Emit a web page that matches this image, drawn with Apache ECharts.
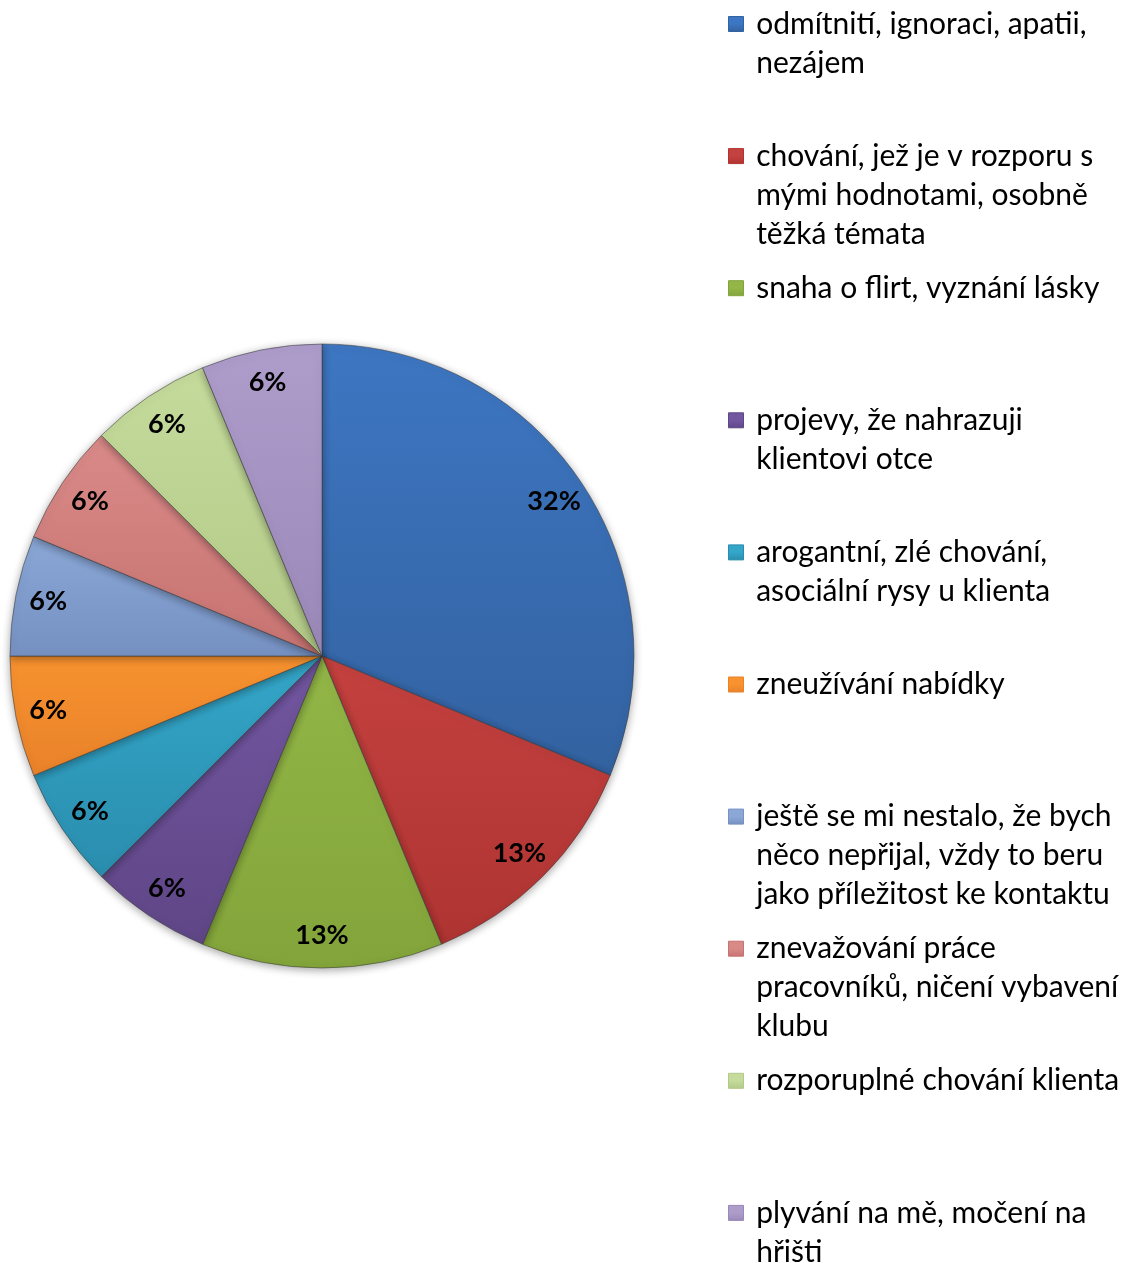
<!DOCTYPE html>
<html>
<head>
<meta charset="utf-8">
<script src="https://cdn.jsdelivr.net/npm/echarts@6/dist/echarts.min.js"></script>
<style>
html,body{margin:0;padding:0;background:#fff;}
#chart{width:1127px;height:1263px;}
</style>
</head>
<body>
<div id="chart"></div>
<script>
const categories = [
  'odmítnití, ignoraci, apatii, nezájem',
  'chování, jež je v rozporu s mými hodnotami, osobně těžká témata',
  'snaha o flirt, vyznání lásky',
  'projevy, že nahrazuji klientovi otce',
  'arogantní, zlé chování, asociální rysy u klienta',
  'zneužívání nabídky',
  'ještě se mi nestalo, že bych něco nepřijal, vždy to beru jako příležitost ke kontaktu',
  'znevažování práce pracovníků, ničení vybavení klubu',
  'rozporuplné chování klienta',
  'plyvání na mě, močení na hřišti'
];
const legendLines = [
  'odmítnití, ignoraci, apatii,\nnezájem',
  'chování, jež je v rozporu s\nmými hodnotami, osobně\ntěžká témata',
  'snaha o flirt, vyznání lásky',
  'projevy, že nahrazuji\nklientovi otce',
  'arogantní, zlé chování,\nasociální rysy u klienta',
  'zneužívání nabídky',
  'ještě se mi nestalo, že bych\nněco nepřijal, vždy to beru\njako příležitost ke kontaktu',
  'znevažování práce\npracovníků, ničení vybavení\nklubu',
  'rozporuplné chování klienta',
  'plyvání na mě, močení na\nhřišti'
];
const values = [5, 2, 2, 1, 1, 1, 1, 1, 1, 1];
const colorsTop = ['#3D76C2','#C4413F','#93B647','#7256A0','#34A6C8','#F7922F','#8AA7D6','#D98A88','#C5DB9C','#AE9DCB'];
const colorsBot = ['#3362A0','#AE3432','#82A43A','#5F4686','#2A8DAE','#E9822A','#7591C2','#C77371','#B2C987','#9A88B8'];

const cx = 322, cy = 656, R = 312;
const lineH = 39;

function grad(i){
  return new echarts.graphic.LinearGradient(0,0,0,1,[
    {offset:0,color:colorsTop[i]},{offset:1,color:colorsBot[i]}
  ]);
}
function iconGrad(i){
  return new echarts.graphic.LinearGradient(0,0,0,1,[
    {offset:0,color:colorsTop[i]},{offset:0.5,color:colorsTop[i]},{offset:1,color:colorsBot[i]}
  ]);
}

const pieData = categories.map((c,i)=>({name:c,value:values[i],itemStyle:{color:grad(i)}}));
const labelData = categories.map((c,i)=>({name:c,value:values[i]}));

const legends = categories.map((c,i)=>{
  const n = legendLines[i].split('\n').length;
  const H = (2*n-1)*lineH;
  const yc = 24 + i*132.1;
  return {
    orient:'vertical',
    left:728,
    top: yc - H/2,
    padding:0,
    itemWidth:15,
    itemHeight:15,
    itemGap:0,
    icon:'rect',
    selectedMode:false,
    data:[{name:c, itemStyle:{color:iconGrad(i), borderColor:colorsBot[i], borderWidth:1}}],
    formatter: name => {
      const lines = legendLines[categories.indexOf(name)].split('\n').map(s => ' ' + s);
      return '\u200b\n'.repeat(lines.length-1) + lines.join('\n');
    },
    textStyle:{
      fontFamily:'Lato',
      fontSize:30,
      color:'#000',
      lineHeight:lineH
    }
  };
});

const chart = echarts.init(document.getElementById('chart'), null, {renderer:'canvas'});
chart.setOption({
  animation:false,
  backgroundColor:'#fff',
  legend: legends,
  series:[
    {
      type:'pie',
      center:[cx,cy],
      radius:[0,R],
      startAngle:90,
      clockwise:true,
      silent:true,
      label:{show:false},
      labelLine:{show:false},
      itemStyle:{borderColor:'rgba(60,60,60,0.55)',borderWidth:1,shadowBlur:8,shadowColor:'rgba(0,0,0,0.35)',shadowOffsetY:2},
      data:pieData
    },
    {
      type:'pie',
      center:[cx,cy],
      radius:[R*0.77,R],
      startAngle:90,
      clockwise:true,
      silent:true,
      percentPrecision:0,
      itemStyle:{color:'rgba(0,0,0,0)'},
      label:{show:true,position:'inside',formatter:'{d}%',fontFamily:'Lato',fontWeight:'bold',fontSize:27,color:'#000'},
      labelLine:{show:false},
      data:labelData
    }
  ]
});
</script>
</body>
</html>
